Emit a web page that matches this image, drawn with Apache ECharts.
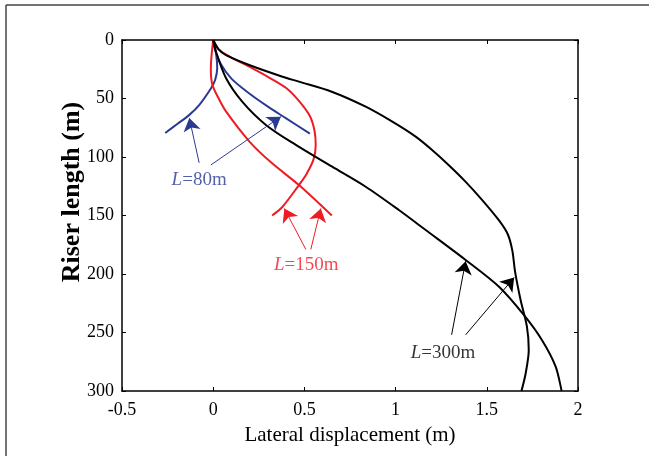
<!DOCTYPE html>
<html>
<head>
<meta charset="utf-8">
<script src="https://cdn.jsdelivr.net/npm/echarts@6/dist/echarts.min.js"></script>
<style>
  html, body { margin: 0; padding: 0; background: #fff; }
  #chart { width: 649px; height: 456px; }
</style>
</head>
<body>
<div id="chart"></div>
<script>
// curves: [lateral displacement (m), riser length (m)]
const blue80a = [[0,0],[0.016,12],[0.022,24],[0.011,34],[-0.011,41],[-0.077,55.6],[-0.131,64],[-0.197,71.8],[-0.263,79.5]];
const blue80b = [[0,0],[0.01,8],[0.04,20],[0.1,33],[0.2,46],[0.3,57],[0.4,67],[0.53,80]];
const red150a = [[0,0],[-0.01,15],[-0.013,25],[-0.005,38],[0.03,50],[0.07,61],[0.2,87],[0.32,105],[0.47,124],[0.65,150]];
const red150b = [[0,0],[0.03,8],[0.1,15],[0.2,23],[0.3,31.5],[0.4,41],[0.47,52],[0.53,65],[0.556,78],[0.562,90],[0.55,102],[0.51,115],[0.47,124],[0.38,142.5],[0.323,150]];
const black300a = [[0,0],[0.03,8],[0.07,13],[0.197,21.4],[0.38,31.4],[0.47,35.6],[0.65,44.2],[0.836,57],[0.982,69.8],[1.11,82.6],[1.2,94],
  [1.292,107],[1.383,121],[1.475,136.8],[1.566,154],[1.615,166],[1.64,180],[1.655,198],[1.685,222],[1.72,245],[1.73,265],[1.713,285],[1.69,300]];
const black300b = [[0,0],[0.015,10],[0.07,32.5],[0.159,52.7],[0.289,72.6],[0.453,89.7],[0.652,108.3],[0.836,125.4],[1.018,145.3],
  [1.165,162.4],[1.384,188],[1.567,210.9],[1.703,235],[1.802,256.4],[1.877,279],[1.91,300]];

// annotation arrows: [from, to]
const arrows80 = [[[-0.077,105],[-0.131,66.7]],[[-0.013,106.8],[0.371,65.5]]];
const arrows150 = [[[0.508,179],[0.39,144]],[[0.535,179],[0.59,144]]];
const arrows300 = [[[1.307,252],[1.384,189]],[[1.384,252],[1.65,203]]];
const labels = [
  {text: '80m', pos: [-0.077, 119.5], color: '#2b3a91'},
  {text: '150m', pos: [0.51, 192], color: '#ed1c24'},
  {text: '300m', pos: [1.26, 267.5], color: '#000'}
];

const xTicks = {min: -0.5, max: 2, interval: 0.5};
const yTicks = {min: 0, max: 300, interval: 50};

const BLUE = '#2b3a91', RED = '#ed1c24', BLACK = '#000';
const font = 'Liberation Serif';

let myChart = echarts.init(document.getElementById('chart'));

function curve(data, color) {
  return {
    type: 'line', data: data, smooth: 0.3, symbol: 'none',
    lineStyle: {color: color, width: 2}, z: 3
  };
}
function arrowSeries(list, color) {
  return {
    type: 'lines', coordinateSystem: 'cartesian2d',
    symbol: ['none', 'arrow'], symbolSize: [0, 13],
    lineStyle: {color: color, width: 1, opacity: 1},
    data: list.map(function (a) { return {coords: a}; }), z: 4
  };
}

const axisLine = {onZero: false, lineStyle: {color: '#000', width: 1.5}};
const tick = {inside: true, length: 4, lineStyle: {color: '#000', width: 1}};

myChart.setOption({
  animation: false,
  grid: {left: 122, right: 71, top: 40, bottom: 65},
  xAxis: [
    {
      type: 'value', min: xTicks.min, max: xTicks.max, interval: xTicks.interval,
      name: 'Lateral displacement (m)', nameLocation: 'middle', nameGap: 34,
      nameTextStyle: {fontFamily: font, fontSize: 21, color: '#000'},
      axisLine: axisLine, axisTick: tick, splitLine: {show: false},
      axisLabel: {fontFamily: font, fontSize: 18, color: '#000', margin: 10}
    },
    {
      type: 'value', position: 'top', min: xTicks.min, max: xTicks.max, interval: xTicks.interval,
      axisLine: axisLine, axisTick: tick, axisLabel: {show: false}, splitLine: {show: false}
    }
  ],
  yAxis: [
    {
      type: 'value', inverse: true, min: yTicks.min, max: yTicks.max, interval: yTicks.interval,
      axisLine: axisLine, axisTick: tick, splitLine: {show: false},
      axisLabel: {fontFamily: font, fontSize: 18, color: '#000', margin: 8}
    },
    {
      type: 'value', position: 'right', inverse: true, min: yTicks.min, max: yTicks.max, interval: yTicks.interval,
      axisLine: axisLine, axisTick: tick, axisLabel: {show: false}, splitLine: {show: false}
    }
  ],
  graphic: [
    {type: 'line', shape: {x1: 6, y1: 5, x2: 649, y2: 5}, style: {stroke: '#444', lineWidth: 1.5}},
    {type: 'line', shape: {x1: 6, y1: 5, x2: 6, y2: 456}, style: {stroke: '#444', lineWidth: 1.5}},
    // y axis title sits above the middle of the axis in the reference
    {
      type: 'text', x: 72, y: 192, rotation: Math.PI / 2,
      style: {
        text: 'Riser length (m)', fill: '#000', align: 'center', verticalAlign: 'middle',
        font: 'bold 26px "Liberation Serif"'
      }
    }
  ],
  series: [
    curve(blue80a, BLUE), curve(blue80b, BLUE),
    curve(red150a, RED), curve(red150b, RED),
    curve(black300a, BLACK), curve(black300b, BLACK),
    arrowSeries(arrows80, BLUE), arrowSeries(arrows150, RED), arrowSeries(arrows300, BLACK),
    {
      type: 'scatter', symbolSize: 0, z: 5,
      data: labels.map(function (l) {
        return {
          value: l.pos,
          label: {
            show: true, position: 'inside', color: l.color,
            formatter: '{i|L}{n|=' + l.text + '}',
            rich: {
              i: {fontFamily: font, fontSize: 19, fontStyle: 'italic', color: l.color},
              n: {fontFamily: font, fontSize: 19, color: l.color}
            }
          }
        };
      })
    }
  ]
});
</script>
</body>
</html>
